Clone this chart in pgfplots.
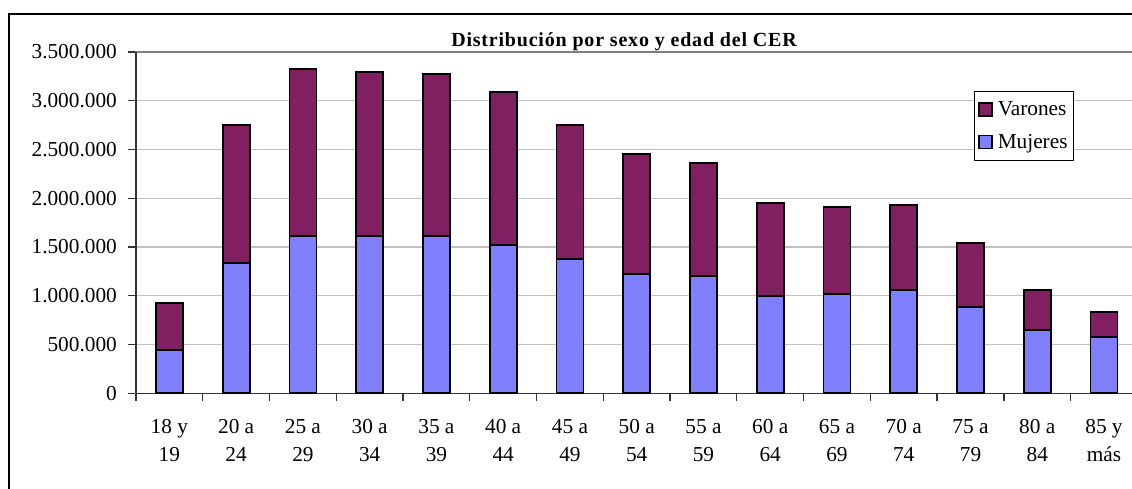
\documentclass[border=0pt]{standalone}
\usepackage{pgfplots}
\pgfplotsset{compat=1.18}
\usepackage{fontspec}
\setmainfont{Liberation Serif}
\definecolor{mujeres}{HTML}{8080FF}
\definecolor{varones}{HTML}{802060}
\definecolor{gridgray}{HTML}{C0C0C0}
\begin{document}
\begin{tikzpicture}[x=1bp,y=1bp]
\useasboundingbox (0,0) rectangle (1132,489);
\begin{scope}
\clip (0,0) rectangle (1132,489);
\fill[white] (0,0) rectangle (1132,489);
\draw[line width=1.3bp] (9,-30) rectangle (1300,475);
\node[anchor=base, font={\fontsize{20bp}{24bp}\selectfont\bfseries\addfontfeatures{LetterSpace=4}}] at (624,442.3) {Distribución por sexo y edad del CER};
\begin{axis}[
  at={(136bp,95.7bp)}, anchor=south west,
  scale only axis, width=1001.4bp, height=341.3bp,
  xmin=-0.5, xmax=14.5, ymin=0, ymax=3500000,
  ybar stacked, bar width=27bp,
  axis line style={draw=black!50, line width=1.3bp},
  xtick={0,...,14},
  xticklabels={{18 y\\19},{20 a\\24},{25 a\\29},{30 a\\34},{35 a\\39},{40 a\\44},{45 a\\49},{50 a\\54},{55 a\\59},{60 a\\64},{65 a\\69},{70 a\\74},{75 a\\79},{80 a\\84},{85 y\\más}},
  minor xtick={-0.5,0.5,...,14.5},
  x tick style={draw=none},
  minor x tick style={draw=black!80, line width=1.3bp},
  minor tick length=8bp,
  major tick length=8bp,
  tick align=outside,
  xtick pos=bottom, ytick pos=left,
  ytick={0,500000,...,3500000},
  y tick style={draw=black!80, line width=1.3bp},
  scaled y ticks=false,
  /pgf/number format/.cd, fixed, 1000 sep={.}, assume math mode=true,
  /pgfplots/.cd,
  ymajorgrids, major grid style={draw=gridgray, line width=1.3bp},
  tick label style={font=\fontsize{21.3bp}{28bp}\selectfont},
  xticklabel style={align=center, inner sep=0pt, anchor=north, yshift=-18bp},
  yticklabel style={inner sep=0pt, anchor=east, xshift=-11bp},
  legend style={at={(0.8368,0.8866)}, anchor=north west, draw=black, line width=1bp,
    fill=white, inner xsep=4bp, inner ysep=8.5bp, row sep=13bp, column sep=3bp,
    font=\fontsize{21.3bp}{25bp}\selectfont, nodes={inner sep=2bp}},
  legend cell align=left,
  reverse legend,
  legend image code/.code={\draw[#1, draw=black, line width=1.3bp] (0bp,-6.5bp) rectangle (13bp,6.5bp);},
  clip=false,
]
\addplot[fill=mujeres, draw=black, line width=1.8bp] coordinates {
(0,441000) (1,1340000) (2,1613000) (3,1613000) (4,1616000) (5,1524000) (6,1374000)
(7,1224000) (8,1206000) (9,998000) (10,1015000) (11,1056000) (12,888000) (13,649000) (14,574000)};
\addlegendentry{Mujeres}
\addplot[fill=varones, draw=black, line width=1.8bp] coordinates {
(0,488000) (1,1412000) (2,1716000) (3,1679000) (4,1659000) (5,1563000) (6,1378000)
(7,1230000) (8,1156000) (9,951000) (10,899000) (11,875000) (12,653000) (13,410000) (14,260000)};
\addlegendentry{Varones}
\draw[black!80, line width=1.5bp] (rel axis cs:0,0) -- (rel axis cs:0,1);
\draw[black!80, line width=1.5bp] (rel axis cs:0,0) -- (rel axis cs:1,0);
\end{axis}
\end{scope}
\end{tikzpicture}
\end{document}
